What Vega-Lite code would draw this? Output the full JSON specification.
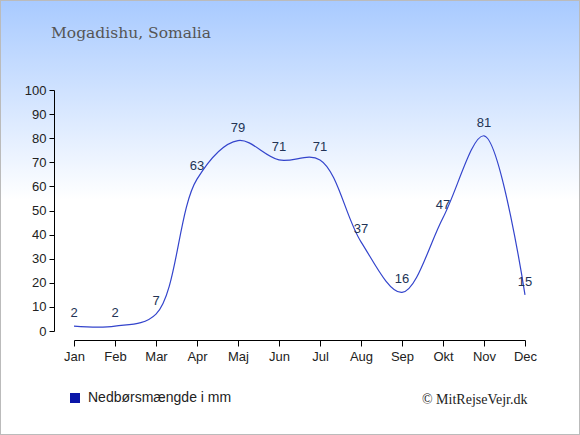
{
  "$schema": "https://vega.github.io/schema/vega-lite/v6.json",
  "width": 580,
  "height": 435,
  "autosize": "none",
  "padding": 0,
  "background": "#ffffff",
  "title": {
    "text": "Mogadishu, Somalia",
    "anchor": "start",
    "frame": "group",
    "orient": "top",
    "offset": -41,
    "dx": 51,
    "font": "DejaVu Serif",
    "fontSize": 15.5,
    "fontWeight": "normal",
    "color": "#555555"
  },
  "config": {
    "view": {
      "stroke": "#bbbbbb",
      "strokeWidth": 2,
      "fill": {
        "gradient": "linear",
        "x1": 0, "y1": 0, "x2": 0, "y2": 1,
        "stops": [
          {"offset": 0, "color": "#a8caff"},
          {"offset": 0.46, "color": "#ffffff"},
          {"offset": 1, "color": "#ffffff"}
        ]
      }
    },
    "axis": {
      "labelFont": "Liberation Sans",
      "labelFontSize": 13,
      "labelColor": "#222222",
      "domainColor": "#000000",
      "tickColor": "#000000",
      "grid": false
    }
  },
  "data": {
    "values": [
      {"month": "Jan", "mm": 2},
      {"month": "Feb", "mm": 2},
      {"month": "Mar", "mm": 7},
      {"month": "Apr", "mm": 63},
      {"month": "Maj", "mm": 79},
      {"month": "Jun", "mm": 71},
      {"month": "Jul", "mm": 71},
      {"month": "Aug", "mm": 37},
      {"month": "Sep", "mm": 16},
      {"month": "Okt", "mm": 47},
      {"month": "Nov", "mm": 81},
      {"month": "Dec", "mm": 15}
    ]
  },
  "encoding": {
    "x": {
      "field": "month",
      "type": "ordinal",
      "sort": null,
      "scale": {"type": "point", "range": [74, 525], "padding": 0},
      "axis": {
        "orient": "bottom",
        "offset": -95,
        "labelAngle": 0,
        "labelPadding": 4,
        "tickSize": 6,
        "title": "© MitRejseVejr.dk",
        "titleFont": "Liberation Serif",
        "titleFontSize": 14,
        "titleFontWeight": "normal",
        "titleColor": "#222222",
        "titleAlign": "right",
        "titleBaseline": "alphabetic",
        "titleX": 527,
        "titleY": 63
      }
    },
    "y": {
      "field": "mm",
      "type": "quantitative",
      "scale": {"domain": [0, 100], "range": [331, 90], "nice": false},
      "axis": {
        "orient": "left",
        "offset": -54,
        "values": [0, 10, 20, 30, 40, 50, 60, 70, 80, 90, 100],
        "tickSize": 5,
        "labelPadding": 3,
        "title": null
      }
    }
  },
  "layer": [
    {
      "mark": {"type": "line", "interpolate": "catmull-rom", "strokeWidth": 1.2},
      "encoding": {
        "color": {
          "datum": "Nedbørsmængde i mm",
          "type": "nominal",
          "scale": {"range": ["#3344cc"]},
          "legend": {
            "orient": "none",
            "legendX": 68,
            "legendY": 391,
            "title": null,
            "symbolType": "square",
            "symbolSize": 100,
            "symbolFillColor": "#0a16a8",
            "symbolStrokeColor": "#0a16a8",
            "symbolStrokeWidth": 0,
            "labelFont": "Liberation Sans",
            "labelFontSize": 14,
            "labelColor": "#222222",
            "labelOffset": 6
          }
        }
      }
    },
    {
      "mark": {
        "type": "text",
        "dy": -13,
        "font": "Liberation Sans",
        "fontSize": 13,
        "color": "#223355"
      },
      "encoding": {"text": {"field": "mm", "type": "quantitative"}}
    }
  ]
}
